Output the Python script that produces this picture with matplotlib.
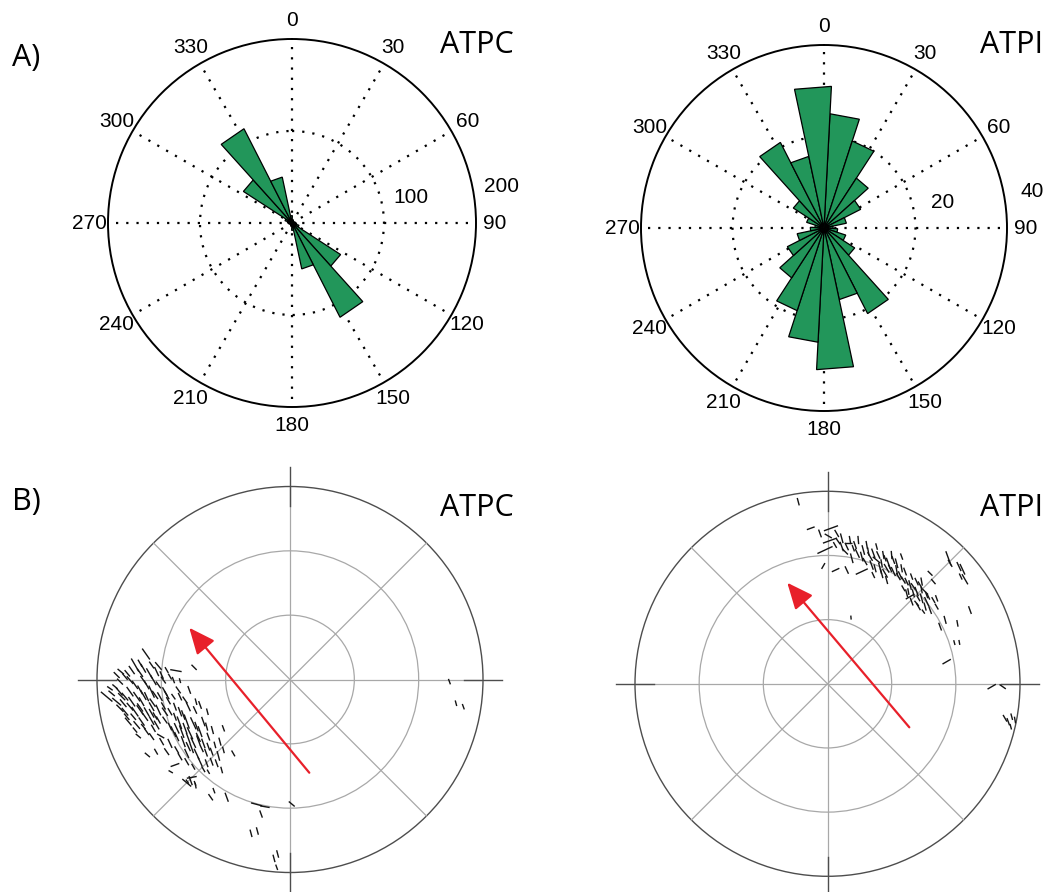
import numpy as np
import matplotlib.pyplot as plt
from matplotlib.collections import LineCollection
from matplotlib.patches import Circle

plt.rcParams["font.family"] = ["Liberation Sans", "DejaVu Sans"]

W, H = 1048, 892
GREEN = "#22965a"
RED = "#e8202a"
LIGHT = "#a8a8a8"
DARK = "#4d4d4d"
LABEL_FONT = ["Open Sans", "DejaVu Sans"]

# --- rose diagrams: 24 sectors of 15 deg, clockwise from north ---
BIN_START = 3
BIN_WIDTH = 15
THETA_TICKS = list(range(0, 360, 30))

ATPC_COUNTS = [4, 3, 2, 2, 3, 4, 5, 8, 63, 115, 51, 8,
               4, 3, 2, 2, 3, 4, 5, 8, 63, 115, 51, 8]
ATPC_RING, ATPC_RMAX = 100, 200

ATPI_COUNTS = [25, 20, 13, 9, 5, 2, 3, 5, 8, 21, 16, 31,
               25, 19, 13, 9, 6, 3, 2, 4, 8, 21, 16, 31]
ATPI_RING, ATPI_RMAX = 20, 40

# --- splitting measurements in station plot (outer circle = 1) ---
# x, y position; fast azimuth (deg from north); bar length
ATPC_X = [-0.746, -0.803, -0.682, -0.497, -0.877, -0.843, -0.777, -0.729, -0.691, -0.591,
          -0.881, -0.829, -0.760, -0.708, -0.656, -0.604, -0.570, -0.950, -0.884, -0.829,
          -0.777, -0.717, -0.648, -0.579, -0.522, -0.898, -0.864, -0.820, -0.769, -0.712,
          -0.630, -0.544, -0.487, -0.855, -0.803, -0.743, -0.682, -0.622, -0.570, -0.492,
          -0.428, -0.838, -0.769, -0.717, -0.648, -0.573, -0.535, -0.501, -0.449, -0.803,
          -0.743, -0.670, -0.604, -0.561, -0.518, -0.466, -0.402, -0.665, -0.622, -0.553,
          -0.501, -0.449, -0.363, -0.739, -0.694, -0.639, -0.535, -0.484, -0.435, -0.371,
          -0.294, -0.596, -0.535, -0.466, -0.380, -0.618, -0.509, -0.449, -0.532, -0.492,
          -0.423, -0.682, -0.786, -0.933, -0.622, -0.345, -0.855, -0.803, -0.743, -0.682,
          -0.872, -0.794, -0.743, -0.674, -0.604, -0.829, -0.777, -0.717, -0.656, -0.812,
          -0.751, -0.699, -0.596, -0.553, -0.760, -0.708, -0.475, -0.527, -0.423, -0.587,
          -0.406, -0.639, -0.777, -0.907,
          -0.898, -0.820, -0.760, -0.717, -0.665, -0.622, -0.924, -0.855, -0.760, -0.699,
          -0.639, -0.570, -0.881, -0.777, -0.717, -0.648, -0.596, -0.527, -0.466, -0.846,
          -0.794, -0.691, -0.587, -0.544, -0.484, -0.432, -0.717, -0.587, -0.527, -0.475,
          -0.423, -0.389, -0.509, -0.458, -0.570, -0.406, -0.345, -0.501, -0.432, -0.354,
          0.826, 0.860, 0.898, -0.535, -0.515, -0.489, -0.411, -0.394, -0.328, -0.173,
          -0.130, -0.150, 0.009, -0.202, -0.169, -0.083, -0.064, -0.069]
ATPC_Y = [0.132, 0.075, 0.070, 0.063, 0.041, 0.032, 0.035, 0.032, 0.041, 0.046,
          -0.011, -0.003, -0.003, -0.003, -0.003, -0.003, -0.006, -0.089, -0.063, -0.063,
          -0.054, -0.063, -0.063, -0.054, -0.054, -0.115, -0.123, -0.115, -0.115, -0.120,
          -0.110, -0.106, -0.115, -0.167, -0.167, -0.167, -0.158, -0.167, -0.167, -0.158,
          -0.167, -0.218, -0.218, -0.213, -0.210, -0.224, -0.218, -0.227, -0.218, -0.262,
          -0.270, -0.293, -0.270, -0.270, -0.279, -0.270, -0.262, -0.322, -0.331, -0.322,
          -0.327, -0.331, -0.322, -0.391, -0.374, -0.374, -0.383, -0.386, -0.379, -0.396,
          -0.383, -0.443, -0.426, -0.426, -0.434, -0.478, -0.507, -0.465, -0.529, -0.538,
          -0.478, -0.210, -0.293, -0.046, -0.244, -0.253, 0.015, -0.028, -0.028, -0.028,
          -0.089, -0.089, -0.089, -0.089, -0.089, -0.141, -0.145, -0.141, -0.137, -0.193,
          -0.193, -0.189, -0.193, -0.184, -0.244, -0.253, -0.314, -0.348, -0.348, -0.365,
          -0.426, 0.049, 0.084, -0.037,
          0.023, 0.049, 0.058, 0.075, 0.023, 0.015, -0.072, -0.089, -0.080, -0.080,
          -0.080, -0.089, -0.149, -0.158, -0.175, -0.167, -0.141, -0.141, -0.132, -0.193,
          -0.236, -0.236, -0.253, -0.253, -0.244, -0.244, -0.296, -0.296, -0.305, -0.300,
          -0.296, -0.339, -0.357, -0.357, -0.400, -0.374, -0.365, -0.452, -0.434, -0.469,
          -0.011, -0.123, -0.141, -0.535, -0.524, -0.550, -0.610, -0.576, -0.610, -0.647,
          -0.659, -0.697, -0.645, -0.797, -0.785, -0.927, -0.904, -0.973]
ATPC_AZ = [145, 150, 140, 135, 130, 140, 145, 150, 155, 100,
           135, 140, 145, 150, 145, 160, 165, 130, 140, 145,
           150, 155, 150, 145, 160, 130, 140, 145, 150, 145,
           150, 145, 165, 140, 145, 150, 155, 150, 160, 155,
           165, 140, 145, 150, 145, 160, 160, 155, 160, 140,
           145, 120, 155, 160, 155, 160, 165, 150, 155, 160,
           155, 160, 165, 130, 150, 145, 155, 155, 160, 165,
           150, 70, 150, 155, 160, 120, 80, 150, 145, 160,
           150, 150, 130, 125, 155, 160, 140, 145, 150, 145,
           135, 145, 155, 150, 145, 140, 145, 150, 150, 140,
           145, 150, 160, 160, 140, 150, 160, 155, 160, 150,
           160, 150, 150, 130,
           135, 145, 150, 145, 155, 150, 130, 140, 150, 145,
           150, 155, 135, 145, 150, 145, 160, 155, 160, 140,
           140, 150, 155, 160, 160, 165, 145, 155, 160, 155,
           160, 165, 160, 155, 150, 160, 165, 150, 160, 165,
           160, 165, 160, 130, 160, 170, 145, 160, 160, 105,
           100, 160, 130, 165, 165, 165, 165, 160]
ATPC_LEN = [0.069, 0.078, 0.052, 0.038, 0.043, 0.043, 0.052, 0.060, 0.052, 0.060,
            0.043, 0.052, 0.052, 0.060, 0.043, 0.035, 0.026, 0.078, 0.052, 0.060,
            0.052, 0.069, 0.052, 0.043, 0.043, 0.060, 0.052, 0.060, 0.052, 0.052,
            0.043, 0.043, 0.035, 0.052, 0.060, 0.052, 0.060, 0.043, 0.052, 0.043,
            0.035, 0.052, 0.052, 0.052, 0.043, 0.069, 0.078, 0.069, 0.052, 0.035,
            0.043, 0.043, 0.060, 0.069, 0.069, 0.060, 0.043, 0.043, 0.052, 0.060,
            0.060, 0.052, 0.043, 0.035, 0.035, 0.043, 0.052, 0.060, 0.043, 0.052,
            0.035, 0.048, 0.043, 0.052, 0.043, 0.026, 0.052, 0.035, 0.026, 0.026,
            0.026, 0.043, 0.035, 0.035, 0.043, 0.035, 0.043, 0.052, 0.052, 0.043,
            0.052, 0.060, 0.052, 0.052, 0.035, 0.052, 0.052, 0.052, 0.043, 0.043,
            0.052, 0.043, 0.043, 0.052, 0.035, 0.043, 0.052, 0.052, 0.043, 0.043,
            0.043, 0.035, 0.043, 0.035,
            0.043, 0.052, 0.052, 0.043, 0.043, 0.035, 0.043, 0.052, 0.060, 0.052,
            0.052, 0.043, 0.052, 0.060, 0.052, 0.052, 0.043, 0.052, 0.043, 0.043,
            0.052, 0.052, 0.060, 0.060, 0.052, 0.043, 0.043, 0.052, 0.060, 0.052,
            0.043, 0.035, 0.052, 0.043, 0.043, 0.043, 0.035, 0.035, 0.043, 0.035,
            0.030, 0.030, 0.030, 0.060, 0.050, 0.030, 0.040, 0.030, 0.050, 0.060,
            0.050, 0.040, 0.040, 0.040, 0.040, 0.040, 0.040, 0.030]

ATPI_X = [-0.087, 0.018, 0.004, 0.013, -0.013, 0.039, 0.074, 0.091, 0.108, 0.126,
          0.160, 0.155, 0.186, 0.204, 0.178, 0.221, 0.229, 0.255, 0.273, 0.290,
          0.299, 0.316, 0.333, 0.342, 0.359, 0.368, 0.385, 0.411, 0.437, 0.446,
          0.429, 0.463, 0.481, 0.489, 0.507, 0.515, 0.533, 0.550, 0.533, 0.498,
          0.550, 0.628, 0.637, 0.683, 0.701, 0.714, 0.692, 0.740, 0.611, 0.585,
          0.675, 0.659, 0.685, 0.122, -0.022, 0.042, 0.100, 0.307, 0.238, 0.394,
          0.463, 0.420, 0.385, 0.255, 0.247, 0.281, 0.325, 0.299, 0.446, 0.472,
          0.489, 0.515, 0.134, 0.056,
          -0.039, 0.048, 0.074, 0.117, 0.100, 0.143, 0.178, 0.195, 0.212, 0.238,
          0.264, 0.281, 0.307, 0.342, 0.359, 0.377, 0.403, 0.394, 0.429, 0.463,
          0.437, 0.472, 0.507, 0.524, 0.489, 0.567, 0.567, 0.411,
          -0.152, 0.619, 0.853, 0.910, 0.922, 0.939, 0.957, 0.974, 0.952]
ATPI_Y = [0.808, 0.808, 0.768, 0.744, 0.695, 0.721, 0.713, 0.687, 0.730, 0.652,
          0.747, 0.678, 0.695, 0.721, 0.583, 0.661, 0.617, 0.643, 0.600, 0.669,
          0.574, 0.626, 0.669, 0.583, 0.626, 0.557, 0.600, 0.531, 0.557, 0.505,
          0.453, 0.479, 0.513, 0.444, 0.479, 0.427, 0.574, 0.531, 0.383, 0.375,
          0.435, 0.652, 0.626, 0.609, 0.595, 0.543, 0.557, 0.383, 0.332, 0.297,
          0.314, 0.214, 0.215, 0.344, 0.612, 0.591, 0.591, 0.539, 0.565, 0.496,
          0.418, 0.479, 0.661, 0.713, 0.600, 0.626, 0.600, 0.652, 0.470, 0.444,
          0.487, 0.461, 0.704, 0.739,
          0.781, 0.781, 0.756, 0.747, 0.713, 0.721, 0.661, 0.635, 0.687, 0.678,
          0.669, 0.574, 0.600, 0.643, 0.591, 0.565, 0.583, 0.539, 0.513, 0.531,
          0.427, 0.401, 0.401, 0.453, 0.531, 0.444, 0.401, 0.470,
          0.946, 0.115, -0.015, -0.015, -0.179, -0.197, -0.171, -0.188, -0.223]
ATPI_AZ = [70, 70, 120, 70, 65, 150, 160, 135, 90, 165,
           175, 155, 165, 170, 65, 150, 160, 130, 165, 170,
           150, 160, 175, 155, 165, 150, 170, 155, 160, 145,
           60, 160, 150, 165, 135, 155, 135, 140, 160, 145,
           150, 160, 150, 155, 155, 150, 155, 160, 165, 160,
           170, 165, 170, 175, 30, 65, 155, 165, 155, 150,
           140, 170, 160, 165, 165, 170, 155, 160, 165, 150,
           170, 160, 160, 145,
           160, 150, 165, 170, 155, 160, 165, 150, 170, 160,
           155, 165, 150, 160, 170, 155, 160, 150, 165, 155,
           160, 150, 165, 155, 170, 160, 150, 165,
           165, 60, 60, 125, 150, 160, 165, 170, 165]
ATPI_LEN = [0.043, 0.078, 0.043, 0.078, 0.087, 0.035, 0.052, 0.043, 0.035, 0.052,
            0.043, 0.052, 0.052, 0.043, 0.069, 0.052, 0.052, 0.052, 0.061, 0.043,
            0.052, 0.061, 0.043, 0.052, 0.052, 0.043, 0.043, 0.043, 0.035, 0.043,
            0.052, 0.052, 0.043, 0.052, 0.043, 0.052, 0.035, 0.035, 0.043, 0.026,
            0.035, 0.078, 0.043, 0.052, 0.061, 0.061, 0.035, 0.043, 0.043, 0.043,
            0.035, 0.026, 0.026, 0.021, 0.035, 0.043, 0.043, 0.043, 0.035, 0.035,
            0.035, 0.035, 0.035, 0.035, 0.043, 0.043, 0.043, 0.035, 0.043, 0.035,
            0.035, 0.035, 0.035, 0.035,
            0.043, 0.043, 0.052, 0.043, 0.043, 0.043, 0.052, 0.043, 0.043, 0.052,
            0.043, 0.052, 0.052, 0.043, 0.052, 0.043, 0.043, 0.043, 0.052, 0.043,
            0.043, 0.043, 0.043, 0.035, 0.043, 0.035, 0.035, 0.043,
            0.040, 0.050, 0.050, 0.040, 0.040, 0.040, 0.035, 0.035, 0.030]

# mean fast direction arrows (tail -> tip)
ATPC_ARROW = [(0.100, -0.483), (-0.522, 0.268)]
ATPI_ARROW = [(0.425, -0.226), (-0.209, 0.525)]


def rect_px(cx, cy, half):
    """axes rectangle (figure fraction) for a square centred at pixel (cx, cy)."""
    return [(cx - half) / W, (H - cy - half) / H, 2 * half / W, 2 * half / H]


def draw_rose(rect, counts, ring, rmax):
    ax = fig.add_axes(rect, projection="polar")
    ax.set_theta_zero_location("N")
    ax.set_theta_direction(-1)
    ax.set_ylim(0, rmax)
    ax.set_thetagrids(THETA_TICKS, labels=[""] * len(THETA_TICKS))
    ax.set_rgrids([ring], labels=[""])
    ax.grid(True, color="black", linestyle=(0, (1, 3.6)), linewidth=1.6)
    ax.spines["polar"].set_linewidth(1.4)
    ax.tick_params(length=0)

    for i, c in enumerate(counts):
        t1 = np.radians(BIN_START + i * BIN_WIDTH)
        t2 = np.radians(BIN_START + (i + 1) * BIN_WIDTH)
        ax.fill([0, t1, t2], [0, c, c], facecolor=GREEN, edgecolor="black",
                linewidth=0.9, zorder=3)

    for a in THETA_TICKS:
        ax.text(np.radians(a), 1.1 * rmax, str(a), ha="center", va="center",
                fontsize=15, clip_on=False)
    ax.text(np.radians(78), 0.66 * rmax, str(ring), ha="center", va="center",
            fontsize=15, clip_on=False)
    ax.text(np.radians(80), 1.155 * rmax, str(rmax), ha="center", va="center",
            fontsize=15, clip_on=False)
    return ax


def draw_station(rect, xs, ys, az, lens, arrow):
    ax = fig.add_axes(rect)
    ax.set_xlim(-1.15, 1.15)
    ax.set_ylim(-1.15, 1.15)
    ax.set_aspect("equal")
    ax.axis("off")

    for r in (1 / 3, 2 / 3):
        ax.add_patch(Circle((0, 0), r, fill=False, ec=LIGHT, lw=0.9))
    ax.add_patch(Circle((0, 0), 1, fill=False, ec=DARK, lw=1.0))
    for ang in (0, 45, 90, 135):
        s, c = np.sin(np.radians(ang)), np.cos(np.radians(ang))
        ax.plot([-s, s], [-c, c], color=LIGHT, lw=0.9)
    for ang in (0, 90, 180, 270):
        s, c = np.sin(np.radians(ang)), np.cos(np.radians(ang))
        ax.plot([0.9 * s, 1.1 * s], [0.9 * c, 1.1 * c], color=DARK, lw=1.0)

    xs, ys, lens = np.asarray(xs), np.asarray(ys), np.asarray(lens)
    th = np.radians(az)
    dx, dy = np.sin(th) * lens / 2, np.cos(th) * lens / 2
    segs = np.stack([np.column_stack([xs - dx, ys - dy]),
                     np.column_stack([xs + dx, ys + dy])], axis=1)
    ax.add_collection(LineCollection(segs, colors="#141414", linewidths=1.0, zorder=3))

    ax.annotate("", xy=arrow[1], xytext=arrow[0],
                arrowprops=dict(arrowstyle="-|>,head_length=0.8,head_width=0.35",
                                color=RED, lw=1.6, shrinkA=0, shrinkB=0,
                                mutation_scale=20), zorder=4)
    return ax


fig = plt.figure(figsize=(W / 100, H / 100), dpi=100)

draw_rose(rect_px(292, 223, 184), ATPC_COUNTS, ATPC_RING, ATPC_RMAX)
draw_rose(rect_px(824, 228, 183), ATPI_COUNTS, ATPI_RING, ATPI_RMAX)
draw_station(rect_px(290, 679.5, 1.15 * 193), ATPC_X, ATPC_Y, ATPC_AZ, ATPC_LEN, ATPC_ARROW)
draw_station(rect_px(827.5, 683.8, 1.15 * 192.5), ATPI_X, ATPI_Y, ATPI_AZ, ATPI_LEN, ATPI_ARROW)

# panel letters and station names
for x, y, s in [(12, 66, "A)"), (12, 510, "B)"),
                (440, 53, "ATPC"), (980, 53, "ATPI"),
                (440, 516, "ATPC"), (980, 516, "ATPI")]:
    fig.text(x / W, 1 - y / H, s, ha="left", va="baseline",
             fontsize=22, family=LABEL_FONT)

fig.savefig("out.png", dpi=100)
